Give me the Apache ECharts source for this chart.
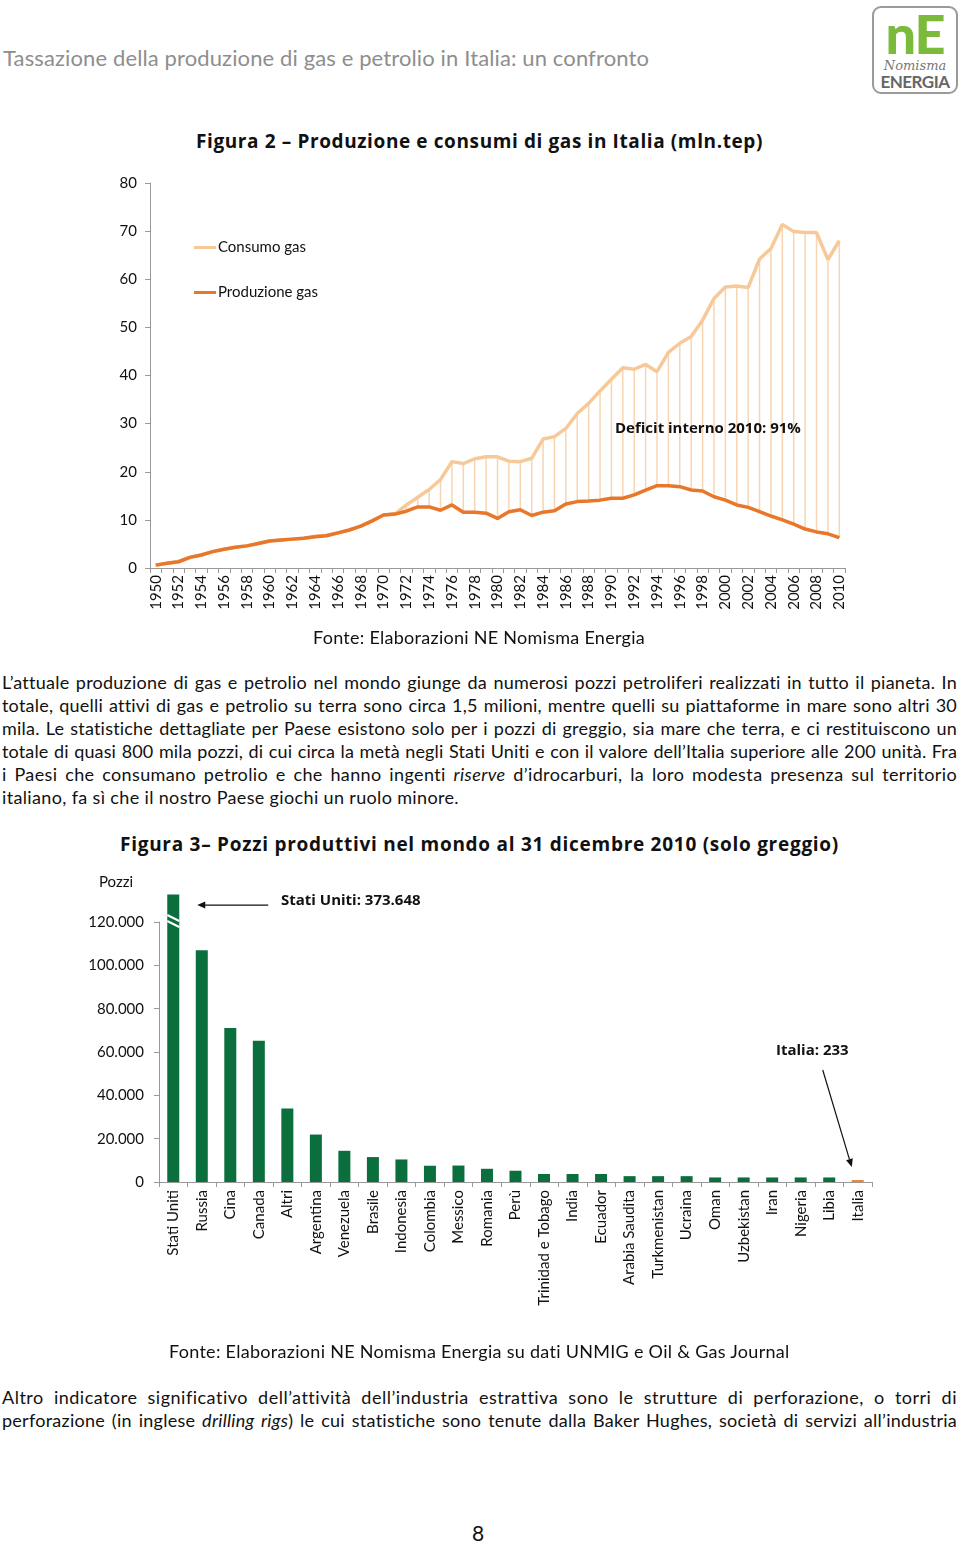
<!DOCTYPE html>
<html><head><meta charset="utf-8">
<script src="https://cdn.jsdelivr.net/npm/echarts@6/dist/echarts.min.js"></script>
<style>
html,body{margin:0;padding:0;background:#fff;}
body{width:960px;height:1543px;position:relative;overflow:hidden;font-family:Lato,'Open Sans',sans-serif;color:#111;}
.abs{position:absolute;white-space:nowrap;}
.abs span{display:inline-block;}
.par{position:absolute;left:2px;height:23px;line-height:23px;font-size:18px;white-space:nowrap;}
.par span{display:inline-block;}
.bt{font-family:'Open Sans',Lato,sans-serif;font-weight:700;}
#logo{position:absolute;left:872px;top:6px;width:82px;height:84px;border:2px solid #9a9a9a;border-radius:9px;text-align:center;overflow:hidden;}
#c1{position:absolute;left:0;top:150px;width:960px;height:480px;}
#c2{position:absolute;left:0;top:860px;width:960px;height:510px;}
#err{position:absolute;left:0;top:1460px;font-size:11px;color:red;}
</style></head><body>

<div class="abs" id="hdr" style="left:3px;top:46px;font-size:22px;line-height:24px;color:#8e8e8e;"><span>Tassazione della produzione di gas e petrolio in Italia: un confronto</span></div>

<div id="logo">
  <div style="font-size:54px;font-weight:900;color:#7cba3c;line-height:50px;margin-top:1px;letter-spacing:-1px;">nE</div>
  <div style="font-family:'DejaVu Serif',serif;font-style:italic;font-size:13px;color:#777;line-height:14px;">Nomisma</div>
  <div style="font-size:17px;font-weight:700;color:#666;line-height:17px;letter-spacing:-0.5px;">ENERGIA</div>
</div>

<div class="abs bt" id="t1" style="left:196px;top:130px;font-size:19px;line-height:22px;"><span>Figura 2 – Produzione e consumi di gas in Italia (mln.tep)</span></div>

<div id="c1"></div>

<div class="abs" id="f1" style="left:313px;top:626px;font-size:18px;line-height:22px;"><span>Fonte: Elaborazioni NE Nomisma Energia</span></div>

<div class="par j" style="top:671px"><span>L’attuale produzione di gas e petrolio nel mondo giunge da numerosi pozzi petroliferi realizzati in tutto il pianeta. In</span></div>
<div class="par j" style="top:694px"><span>totale, quelli attivi di gas e petrolio su terra sono circa 1,5 milioni, mentre quelli su piattaforme in mare sono altri 30</span></div>
<div class="par j" style="top:717px"><span>mila. Le statistiche dettagliate per Paese esistono solo per i pozzi di greggio, sia mare che terra, e ci restituiscono un</span></div>
<div class="par j" style="top:740px"><span>totale di quasi 800 mila pozzi, di cui circa la metà negli Stati Uniti e con il valore dell’Italia superiore alle 200 unità. Fra</span></div>
<div class="par j" style="top:763px"><span>i Paesi che consumano petrolio e che hanno ingenti <i>riserve</i> d’idrocarburi, la loro modesta presenza sul territorio</span></div>
<div class="par" id="plast" style="top:786px"><span>italiano, fa sì che il nostro Paese giochi un ruolo minore.</span></div>

<div class="abs bt" id="t2" style="left:120px;top:833px;font-size:19px;line-height:22px;"><span>Figura 3– Pozzi produttivi nel mondo al 31 dicembre 2010 (solo greggio)</span></div>

<div id="c2"></div>

<div class="abs" id="f2" style="left:169px;top:1340px;font-size:18px;line-height:22px;"><span>Fonte: Elaborazioni NE Nomisma Energia su dati UNMIG e Oil &amp; Gas Journal</span></div>

<div class="par j" style="top:1386px"><span>Altro indicatore significativo dell’attività dell’industria estrattiva sono le strutture di perforazione, o torri di</span></div>
<div class="par j" style="top:1409px"><span>perforazione (in inglese <i>drilling rigs</i>) le cui statistiche sono tenute dalla Baker Hughes, società di servizi all’industria</span></div>

<div class="abs" style="left:472px;top:1521px;font-size:21px;line-height:24px;"><span>8</span></div>
<div id="err"></div>

<script>
// ---------- DATA ----------
const years = ['1950','1951','1952','1953','1954','1955','1956','1957','1958','1959',
 '1960','1961','1962','1963','1964','1965','1966','1967','1968','1969',
 '1970','1971','1972','1973','1974','1975','1976','1977','1978','1979',
 '1980','1981','1982','1983','1984','1985','1986','1987','1988','1989',
 '1990','1991','1992','1993','1994','1995','1996','1997','1998','1999',
 '2000','2001','2002','2003','2004','2005','2006','2007','2008','2009','2010'];
const produzione = [0.6,1.0,1.3,2.2,2.7,3.4,3.9,4.3,4.6,5.1,
 5.6,5.8,6.0,6.2,6.5,6.7,7.3,7.9,8.7,9.8,
 11.0,11.2,11.8,12.7,12.7,12.0,13.1,11.6,11.6,11.4,
 10.3,11.7,12.1,10.9,11.6,11.9,13.3,13.8,13.9,14.1,
 14.5,14.5,15.2,16.2,17.1,17.1,16.9,16.2,16.0,14.8,
 14.1,13.1,12.6,11.7,10.8,10.0,9.1,8.1,7.5,7.1,6.3];
const consumo = [0.6,1.0,1.3,2.2,2.7,3.4,3.9,4.3,4.6,5.1,
 5.6,5.8,6.0,6.2,6.6,6.8,7.3,7.9,8.7,9.8,
 11.0,11.2,13.1,14.7,16.3,18.4,22.1,21.7,22.7,23.1,
 23.1,22.2,22.1,22.8,26.8,27.3,29.0,32.1,34.2,36.8,
 39.2,41.6,41.3,42.3,40.8,44.8,46.7,48.1,51.5,56.0,
 58.4,58.6,58.3,64.2,66.4,71.4,69.9,69.7,69.7,64.1,68.0];

const paesi = ['Stati Uniti','Russia','Cina','Canada','Altri','Argentina','Venezuela','Brasile','Indonesia','Colombia','Messico','Romania','Perù','Trinidad e Tobago','India','Ecuador','Arabia Saudita','Turkmenistan','Ucraina','Oman','Uzbekistan','Iran','Nigeria','Libia','Italia'];
const pozzi = [373648,107000,71100,65200,33900,21900,14400,11500,10400,7500,7600,6100,5200,3700,3700,3700,2700,2700,2700,2100,2100,2100,2100,2100,233];

// ---------- TEXT FITTING ----------
function fitLS(id, w){
  const sp = document.querySelector('#'+id+' span');
  sp.style.letterSpacing = '0px';
  const nat = sp.getBoundingClientRect().width;
  const n = sp.textContent.length;
  sp.style.letterSpacing = ((w-nat)/n).toFixed(3)+'px';
}
function justifyAll(w){
  document.querySelectorAll('.par.j span').forEach(sp=>{
    sp.style.wordSpacing = '0px'; sp.style.letterSpacing='0px';
    const nat = sp.getBoundingClientRect().width;
    const n = sp.textContent.length;
    let ls = (w-nat)*0.5/n; if(ls>0.5) ls=0.5;
    sp.style.letterSpacing = ls.toFixed(3)+'px';
    const nat2 = sp.getBoundingClientRect().width;
    const s = (sp.textContent.match(/ /g)||[]).length;
    if(s) sp.style.wordSpacing = ((w-nat2)/s).toFixed(3)+'px';
  });
  const pl = document.querySelector('#plast span'); pl.style.letterSpacing='0.35px';
}
function fitAll(){
  try{
    fitLS('hdr',646); fitLS('t1',567); fitLS('t2',719); fitLS('f1',332); fitLS('f2',621);
    justifyAll(955);
  }catch(e){ document.getElementById('err').textContent = 'fit error: '+e; }
}
fitAll();

const FONT = 'Lato';
const BFONT = "bold 15px 'Open Sans'";
try{
// ---------- CHART 1 ----------
const c1 = echarts.init(document.getElementById('c1'), null, {renderer:'canvas'});
const gapData = years.map((y,i)=>[i, produzione[i], consumo[i]]);
c1.setOption({
  animation:false,
  textStyle:{fontFamily:FONT},
  grid:{left:150,right:115,top:33,bottom:62},
  legend:{orient:'vertical',left:189,top:85,itemGap:30,itemWidth:22,itemHeight:3,icon:'rect',
    textStyle:{fontSize:15,color:'#111',fontFamily:FONT,padding:[0,0,0,-3]},
    data:['Consumo gas','Produzione gas']},
  xAxis:{type:'category',data:years,boundaryGap:true,
    axisLine:{lineStyle:{color:'#999'}},
    axisTick:{show:true,interval:0,length:5,lineStyle:{color:'#999'}},
    axisLabel:{rotate:90,interval:1,fontSize:15,color:'#111',margin:7,fontFamily:FONT}},
  yAxis:{type:'value',min:0,max:80,interval:10,
    axisLine:{show:true,lineStyle:{color:'#999'}},
    axisTick:{show:true,length:5,lineStyle:{color:'#999'}},
    splitLine:{show:false},
    axisLabel:{fontSize:15,color:'#111',margin:13,fontFamily:FONT}},
  series:[
    {type:'custom',name:'gap',data:gapData,encode:{x:0,y:[1,2]},z:1,silent:true,
     renderItem:function(params,api){
       const i=api.value(0), p=api.value(1), c=api.value(2);
       if(c<=p) return null;
       const a=api.coord([i,p]), b=api.coord([i,c]);
       return {type:'line',shape:{x1:a[0],y1:a[1],x2:b[0],y2:b[1]},style:{stroke:'#f8d5b2',lineWidth:1.5}};
     }},
    {type:'line',name:'Consumo gas',data:consumo,symbol:'none',z:2,
     lineStyle:{color:'#f7c898',width:3.5},itemStyle:{color:'#f7c898'}},
    {type:'line',name:'Produzione gas',data:produzione,symbol:'none',z:3,
     lineStyle:{color:'#e8772a',width:3.5},itemStyle:{color:'#e8772a'}}
  ],
  graphic:[{type:'text',left:615,top:271,z:100,style:{text:'Deficit interno 2010: 91%',font:BFONT,fill:'#111'}}]
});

// ---------- CHART 2 ----------
const breakCap = 132700; // drawn height of the broken (cut) bar
const c2 = echarts.init(document.getElementById('c2'), null, {renderer:'canvas'});
const barData = pozzi.map((v,i)=>({value:Math.min(v,breakCap),
  itemStyle:{color: paesi[i]==='Italia' ? '#e8893c' : '#0b6e3d'}}));
c2.setOption({
  animation:false,
  textStyle:{fontFamily:FONT},
  grid:{left:159,right:88,top:62,bottom:188},
  xAxis:{type:'category',data:paesi,
    axisLine:{lineStyle:{color:'#999'}},
    axisTick:{show:true,interval:0,length:5,lineStyle:{color:'#999'}},
    axisLabel:{rotate:90,interval:0,fontSize:15,color:'#111',margin:8,fontFamily:FONT}},
  yAxis:{type:'value',min:0,max:120000,interval:20000,
    axisLine:{show:true,lineStyle:{color:'#999'}},
    axisTick:{show:true,length:5,lineStyle:{color:'#999'}},
    splitLine:{show:false},
    axisLabel:{fontSize:15,color:'#111',margin:15,fontFamily:FONT,
      formatter:v=> v===0 ? '0' : (v/1000)+'.000'}},
  series:[{type:'bar',data:barData,barWidth:12,clip:false,barMinHeight:2}]
});

const px = (i,v)=>c2.convertToPixel({xAxisIndex:0,yAxisIndex:0},[i,v]);
const us = px(0,120000);
const usX = us[0], y120 = us[1];
const y0 = px(0,0)[1];
const it = px(paesi.length-1,0);
const ay = px(0,127800)[1];
const hx = usX+24, tx = usX+95;
const ix1 = it[0]-35, iy1 = y0-112, ix2 = it[0]-6, iy2 = y0-15;
const ang = Math.atan2(iy2-iy1, ix2-ix1);
const L=8, W=3.5;
const bx = ix2 - L*Math.cos(ang), by = iy2 - L*Math.sin(ang);
c2.setOption({graphic:[
  {type:'line',shape:{x1:usX-6,y1:y120-7,x2:usX+6,y2:y120-1},style:{stroke:'#fff',lineWidth:2},z:100},
  {type:'line',shape:{x1:usX-6,y1:y120-1,x2:usX+6,y2:y120+5},style:{stroke:'#fff',lineWidth:2},z:100},
  {type:'line',shape:{x1:tx,y1:ay,x2:hx+6,y2:ay},style:{stroke:'#111',lineWidth:1.2},z:100},
  {type:'polygon',shape:{points:[[hx,ay],[hx+8,ay-3.5],[hx+8,ay+3.5]]},style:{fill:'#111'},z:100},
  {type:'line',shape:{x1:ix1,y1:iy1,x2:bx,y2:by},style:{stroke:'#111',lineWidth:1.2},z:100},
  {type:'polygon',shape:{points:[[ix2,iy2],[bx+W*Math.sin(ang),by-W*Math.cos(ang)],[bx-W*Math.sin(ang),by+W*Math.cos(ang)]]},style:{fill:'#111'},z:100},
  {type:'text',left:99,top:15,style:{text:'Pozzi',font:'15px Lato',fill:'#111'}},
  {type:'text',left:281,top:33,style:{text:'Stati Uniti: 373.648',font:BFONT,fill:'#111'}},
  {type:'text',left:776,top:183,style:{text:'Italia: 233',font:BFONT,fill:'#111'}}
]});
}catch(e){ document.getElementById('err').textContent += ' chart error: '+e; }

if(document.fonts && document.fonts.ready){ document.fonts.ready.then(fitAll); }
setTimeout(fitAll, 50);
</script>
</body></html>
